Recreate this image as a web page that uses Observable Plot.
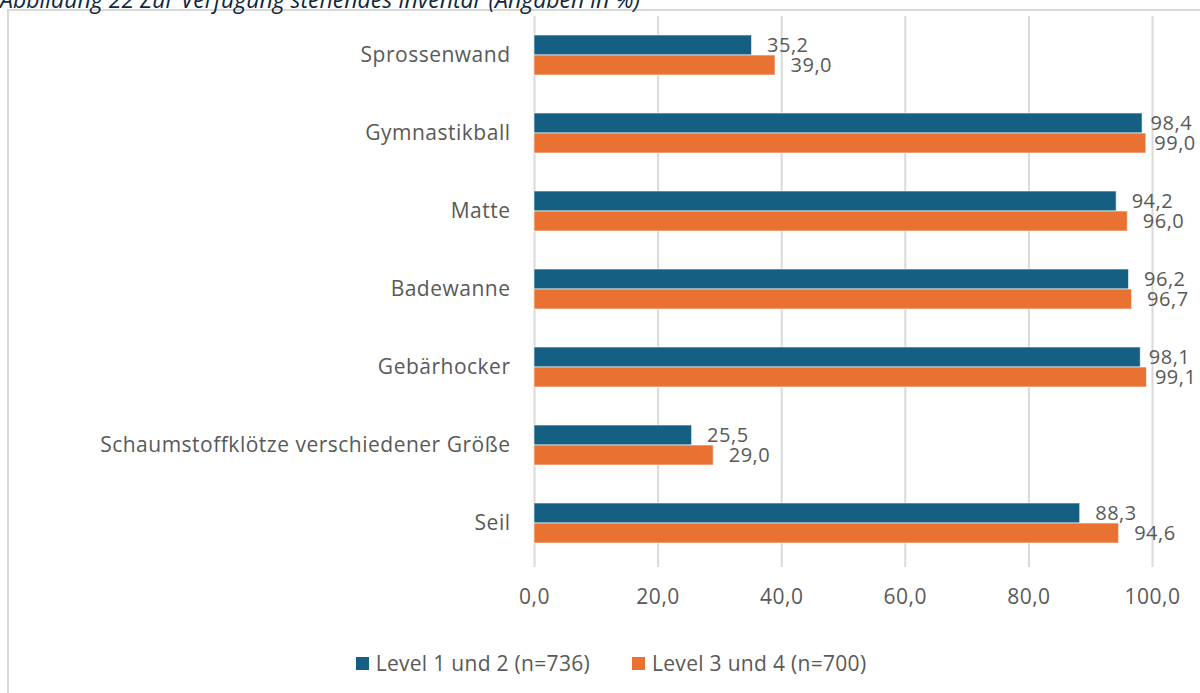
<!DOCTYPE html>
<html><head><meta charset="utf-8">
<script src="https://cdn.jsdelivr.net/npm/d3@7"></script>
<script src="https://cdn.jsdelivr.net/npm/@observablehq/plot@0.6"></script>
<style>
body{margin:0;background:#fff;font-family:"Open Sans",sans-serif;}
#wrap{position:relative;width:1200px;height:693px;overflow:hidden;background:#fff}
#frame{position:absolute;left:7px;top:9px;width:1300px;height:800px;border:2px solid #d9d9d9;box-sizing:border-box}
#title{position:absolute;left:0;top:-14px;font-style:italic;font-size:23px;line-height:26px;color:#0e2841;white-space:nowrap}
#chart{position:absolute;left:0;top:0}
#legend{position:absolute;left:0;width:1222px;top:649px;display:flex;justify-content:center;gap:42px;font-size:21px;letter-spacing:0.3px;color:#595959;line-height:28px}
#legend .item{display:flex;align-items:center;gap:7px}
#legend .sw{width:13px;height:13px;display:inline-block}
</style></head>
<body>
<div id="wrap">
<div id="frame"></div>
<div id="title">Abbildung 22 Zur Verfügung stehendes Inventar (Angaben in %)</div>
<div id="chart"></div>
<div id="legend"></div>
</div>
<script>
const categories = ["Sprossenwand","Gymnastikball","Matte","Badewanne","Gebärhocker","Schaumstoffklötze verschiedener Größe","Seil"];
const series = ["Level 1 und 2 (n=736)","Level 3 und 4 (n=700)"];
const level12 = [35.2,98.4,94.2,96.2,98.1,25.5,88.3];
const level34 = [39.0,99.0,96.0,96.7,99.1,29.0,94.6];
const xTicks = [0,20,40,60,80,100];
const colors = ["#156082","#E97132"];

const fmt = v => v.toFixed(1).replace(".", ",");
const data = [];
categories.forEach((c,i)=>{
  data.push({category:c, series:series[0], value:level12[i]});
  data.push({category:c, series:series[1], value:level34[i]});
});
// labels near the right edge are pulled in (as the chart does)
const labelOpts = {x:"value", y:"series", fy:"category", text:d=>fmt(d.value), textAnchor:"start", fill:"#595959", fontSize:20};

const chart = Plot.plot({
  width:1200, height:613,
  marginLeft:534, marginRight:48, marginTop:15, marginBottom:50,
  style:{fontFamily:"'Open Sans',sans-serif", fontSize:"21px", letterSpacing:"0.5px", color:"#595959", background:"transparent", overflow:"visible"},
  x:{domain:[0,100], label:null},
  fy:{domain:categories, padding:0, label:null},
  y:{domain:series, paddingInner:0, paddingOuter:0.95, axis:null},
  color:{domain:series, range:colors},
  marks:[
    Plot.gridX(xTicks, {stroke:"#d9d9d9", strokeOpacity:1, strokeWidth:2}),
    Plot.barX(data, {x:"value", y:"series", fy:"category", fill:"series", stroke:"#ffffff", strokeOpacity:0.6, strokeWidth:1}),
    Plot.text(data.filter(d=>d.value < 97.5), {...labelOpts, dx:15}),
    Plot.text(data.filter(d=>d.value >= 97.5), {...labelOpts, dx:8}),
    Plot.axisX({ticks:xTicks, tickSize:5, tickPadding:22, stroke:"#d9d9d9", strokeWidth:2, fill:"#595959", tickFormat:fmt, label:null}),
    Plot.axisFy({anchor:"left", tickSize:0, tickPadding:24, label:null, fill:"#595959"})
  ]
});
document.getElementById("chart").appendChild(chart);

const legend = document.getElementById("legend");
series.forEach((s,i)=>{
  const it = document.createElement("div"); it.className="item";
  const sw = document.createElement("span"); sw.className="sw"; sw.style.background=colors[i];
  const tx = document.createElement("span"); tx.textContent=s;
  it.appendChild(sw); it.appendChild(tx); legend.appendChild(it);
});
</script>
</body></html>
